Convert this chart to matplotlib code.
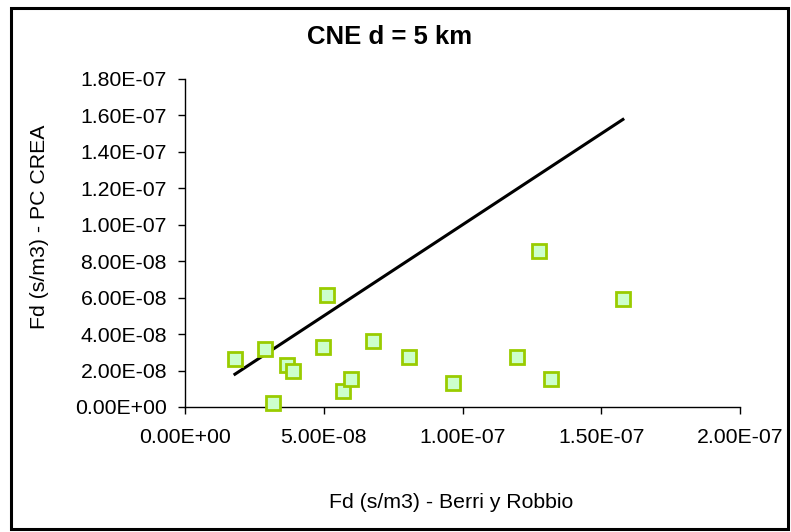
import matplotlib.pyplot as plt
from matplotlib.ticker import FormatStrFormatter, MultipleLocator
from matplotlib.patches import Rectangle

plt.rcParams['font.family'] = ['Liberation Sans', 'DejaVu Sans']

# Fd (s/m3): Berri y Robbio (x) vs PC CREAM (y)
fd_berri = [1.80e-8, 2.88e-8, 3.17e-8, 3.68e-8, 3.89e-8, 4.97e-8, 5.12e-8, 5.69e-8,
            5.98e-8, 6.77e-8, 8.07e-8, 9.66e-8, 1.196e-7, 1.276e-7, 1.319e-7, 1.578e-7]
fd_cream = [2.65e-8, 3.18e-8, 0.22e-8, 2.30e-8, 1.98e-8, 3.29e-8, 6.15e-8, 0.88e-8,
            1.54e-8, 3.62e-8, 2.74e-8, 1.32e-8, 2.74e-8, 8.56e-8, 1.54e-8, 5.93e-8]

fig = plt.figure(figsize=(7.91, 5.32), dpi=100)
ax = fig.add_axes([185 / 791, 1 - 407 / 532, 555 / 791, 328 / 532])

# linea 1:1
linea = sorted(fd_berri)
ax.plot(linea, linea, color='black', linewidth=2.2, zorder=2)

ax.plot(fd_berri, fd_cream, linestyle='none', marker='s', markersize=10,
        markerfacecolor='#ccffcc', markeredgecolor='#99cc00', markeredgewidth=2.0,
        zorder=3, clip_on=False)

ax.set_xlim(0, 2.0e-7)
ax.set_ylim(0, 1.8e-7)
ax.xaxis.set_major_locator(MultipleLocator(5e-8))
ax.yaxis.set_major_locator(MultipleLocator(2e-8))
ax.xaxis.set_major_formatter(FormatStrFormatter('%.2E'))
ax.yaxis.set_major_formatter(FormatStrFormatter('%.2E'))
ax.spines['top'].set_visible(False)
ax.spines['right'].set_visible(False)
ax.spines['left'].set_linewidth(1.0)
ax.spines['bottom'].set_linewidth(1.0)
ax.tick_params(axis='both', direction='out', length=5, width=1.0, labelsize=15.3,
               colors='black')
ax.tick_params(axis='x', pad=10)
ax.tick_params(axis='y', pad=8)

fig.text(390 / 791, 1 - 37 / 532, 'CNE d = 5 km', fontsize=18.5, fontweight='bold',
         ha='center', va='center')
fig.text(451 / 791, 1 - 502 / 532, 'Fd (s/m3) - Berri y Robbio', fontsize=15.3,
         ha='center', va='center')
ylab = fig.text(40 / 791, 1 - 218 / 532, 'Fd (s/m3) - PC CREAM', fontsize=15.3,
                rotation=90, ha='center', va='center')
# la etiqueta queda recortada arriba
clip = Rectangle((0, 0), 1, 1 - 125 / 532, transform=fig.transFigure, visible=False)
fig.add_artist(clip)
ylab.set_clip_on(True)
ylab.set_clip_path(clip)

# marco exterior
fig.add_artist(Rectangle((11 / 791, 1 - 529 / 532), 777 / 791, 521 / 532,
                         transform=fig.transFigure, fill=False,
                         edgecolor='black', linewidth=2.2))

fig.savefig('out.png', dpi=100)
